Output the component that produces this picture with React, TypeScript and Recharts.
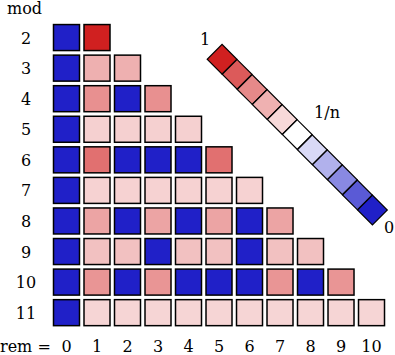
import { ScatterChart, Scatter, XAxis, YAxis } from 'recharts'

// moduli (rows) and remainders (columns)
const mods = [2, 3, 4, 5, 6, 7, 8, 9, 10, 11]
const rems = [0, 1, 2, 3, 4, 5, 6, 7, 8, 9, 10]

// shade per cell: 1 = red, 0 = white (1/n), -1 = blue
const mod2 = [-1, 1]
const mod3 = [-1, 0.354, 0.354]
const mod4 = [-1, 0.5, -1, 0.5]
const mod5 = [-1, 0.21, 0.21, 0.21, 0.21]
const mod6 = [-1, 0.64, -1, -1, -1, 0.64]
const mod7 = [-1, 0.2, 0.2, 0.2, 0.2, 0.2, 0.2]
const mod8 = [-1, 0.41, -1, 0.41, -1, 0.41, -1, 0.41]
const mod9 = [-1, 0.28, 0.28, -1, 0.28, 0.28, -1, 0.28, 0.28]
const mod10 = [-1, 0.475, -1, 0.475, -1, -1, -1, 0.475, -1, 0.475]
const mod11 = [-1, 0.19, 0.19, 0.19, 0.19, 0.19, 0.19, 0.19, 0.19, 0.19, 0.19]

const legendLevels = [1, 0.74, 0.53, 0.35, 0.17, 0, -0.17, -0.35, -0.53, -0.74, -1]

const rows = [mod2, mod3, mod4, mod5, mod6, mod7, mod8, mod9, mod10, mod11]

const RED = [208, 32, 32]
const BLUE = [32, 32, 200]
const FONT = '"DejaVu Serif", serif'

const shade = (t: number) => {
  const c = t >= 0 ? RED : BLUE
  const a = Math.abs(t)
  const ch = c.map((v) => Math.round(255 + (v - 255) * a))
  return `rgb(${ch[0]},${ch[1]},${ch[2]})`
}

const cells = mods.flatMap((n, i) => rows[i].map((v, r) => ({ x: rems[r], y: n, v })))

// legend runs diagonally from (5.1, 2.71) downwards in data space
const legendData = legendLevels.map((v, i) => ({ x: 5.1 + i * 0.493, y: 2.71 + i * 0.493, v }))

const Cell = (props: any) => {
  const { cx, cy, payload } = props
  return (
    <rect x={cx - 13} y={cy - 13} width={26} height={26}
      fill={shade(payload.v)} stroke="#000" strokeWidth={1.5} />
  )
}

const Diamond = (props: any) => {
  const { cx, cy, payload } = props
  return (
    <rect x={cx - 10.5} y={cy - 10.5} width={21} height={21}
      transform={`rotate(45 ${cx} ${cy})`}
      fill={shade(payload.v)} stroke="#000" strokeWidth={1.2} />
  )
}

export default function App() {
  return (
    <div style={{ position: 'relative', width: 395, height: 355, background: '#fff' }}>
      <style>{'body{margin:0}'}</style>
      <ScatterChart width={395} height={355} margin={{ top: 7, right: 0, bottom: 0, left: 0 }}>
        <XAxis
          type="number"
          dataKey="x"
          domain={[-1, 10.77]}
          ticks={rems}
          interval={0}
          height={24}
          axisLine={false}
          tickLine={false}
          tick={(p: any) => (
            <text x={p.x} y={352} textAnchor="middle" fontFamily={FONT} fontSize={16} fill="#000">
              {p.payload.value}
            </text>
          )}
        />
        <YAxis
          type="number"
          dataKey="y"
          reversed
          domain={[1, 11.6]}
          ticks={mods}
          interval={0}
          width={36}
          axisLine={false}
          tickLine={false}
          tick={(p: any) => (
            <text x={26} y={p.y + 6} textAnchor="middle" fontFamily={FONT} fontSize={16} fill="#000">
              {p.payload.value}
            </text>
          )}
        />
        <Scatter data={cells} shape={Cell} isAnimationActive={false} />
        <Scatter data={legendData} shape={Diamond} isAnimationActive={false} />
      </ScatterChart>
      <svg width={395} height={355} style={{ position: 'absolute', left: 0, top: 0, pointerEvents: 'none' }}>
        <g fontFamily={FONT} fontSize={16} fill="#000">
          <text x={7} y={14}>mod</text>
          <text x={0} y={352}>rem =</text>
          <text x={205} y={45} textAnchor="middle">1</text>
          <text x={327} y={118} textAnchor="middle">1/n</text>
          <text x={384} y={233}>0</text>
        </g>
      </svg>
    </div>
  )
}
